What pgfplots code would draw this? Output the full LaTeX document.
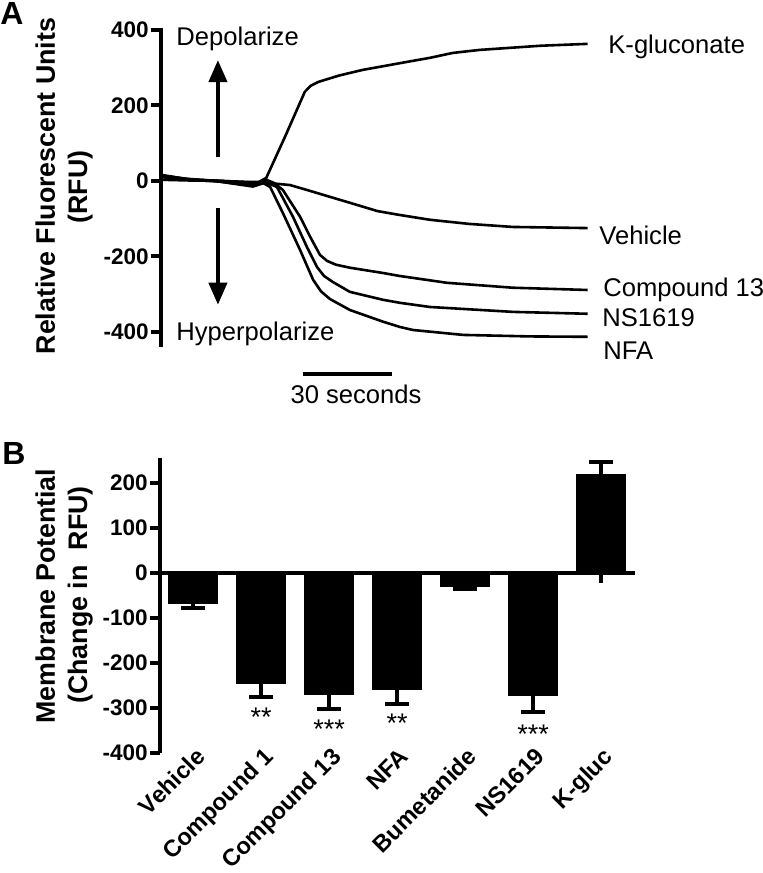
\documentclass[border=0pt]{standalone}
\usepackage{fontspec}
\setmainfont{Liberation Sans}
\usepackage{pgfplots}
\pgfplotsset{compat=1.18}
\usetikzlibrary{arrows.meta}

\newcommand{\annfont}{\fontsize{12.8pt}{15pt}\selectfont}
\newcommand{\astfont}{\fontsize{13.5pt}{15pt}\selectfont}
\newcommand{\tickfont}{\fontsize{11.25pt}{13pt}\selectfont\bfseries}
\newcommand{\labfont}{\fontsize{13.4pt}{15pt}\selectfont\bfseries}
\newcommand{\panfont}{\fontsize{16pt}{18pt}\selectfont\bfseries}

\pgfplotsset{
 mystyle/.style={
  scale only axis,
  axis lines=left,
  axis line style={-},
  x axis line style={draw=none},
  y axis line style={-, line width=2pt},
  xtick style={draw=none},
  ytick style={line width=2pt, black},
  tick align=outside,
  major tick length=5pt,
  yticklabel style={font=\tickfont, inner xsep=1pt},
  /pgf/number format/assume math mode=true,
  clip=false,
 }
}

\begin{document}
\begin{tikzpicture}
\path[use as bounding box] (0,0) rectangle (381pt,436.5pt);

% ---------------- Panel A ----------------
\begin{axis}[mystyle, at={(80.5pt,263pt)}, anchor=south west,
  width=213.5pt, height=159.5pt,
  xmin=0, xmax=144, ymin=-440, ymax=405,
  ytick={-400,-200,0,200,400}, xtick=\empty]
% K-gluconate
\addplot[black, line width=1.3pt, line join=round] coordinates {
 (0,3) (10,1) (20,0) (30,-3) (33,-3) (35.5,8) (42,120) (48.5,236) (50.5,252) (53,262)
 (60,279) (68,294) (82.8,315) (90.7,326) (98.4,339) (107.5,347) (128,358) (143.9,363)};
% Vehicle
\addplot[black, line width=1.3pt, line join=round] coordinates {
 (0,10) (10,3) (20,0) (33,-5) (35.5,-5) (43.5,-11) (49.2,-24) (56,-40) (63.7,-58)
 (73,-80) (80.3,-90) (90.7,-103) (104,-114) (118.7,-122) (143.9,-125)};
% Compound 13
\addplot[black, line width=1.3pt, line join=round] coordinates {
 (0,14) (10,4) (20,0) (31,-8) (35.5,3) (38,-5) (41.1,-24) (46.9,-95) (50.3,-148)
 (53.6,-196) (56,-212) (59,-222) (63.7,-230) (74.9,-244) (80.6,-252) (96.5,-270) (118.7,-283) (143.9,-289)};
% NS1619
\addplot[black, line width=1.3pt, line join=round] coordinates {
 (0,12) (10,3) (20,-2) (31,-12) (35,-3) (39.1,-16) (44.5,-95) (49.2,-175) (52.6,-228)
 (55,-252) (58,-268) (63.7,-294) (74.9,-315) (80.6,-323) (90.7,-334) (118.7,-347) (143.9,-352)};
% NFA
\addplot[black, line width=1.3pt, line join=round] coordinates {
 (0,16) (8,6) (18,0) (31,-15) (34.5,-6) (36.8,-16) (41.1,-85) (46.9,-183) (51.3,-262)
 (54,-293) (57,-313) (63.7,-342) (74.9,-373) (80.6,-387) (85,-395) (101.9,-408) (124.5,-412) (143.9,-413)};
% arrows
\draw[line width=2pt, -{Triangle[width=9pt,length=11pt]}] (axis cs:19.2,64) -- (axis cs:19.2,320);
\draw[line width=2pt, -{Triangle[width=9pt,length=11pt]}] (axis cs:19.2,-72) -- (axis cs:19.2,-328);
% scale bar (30 s)
\draw[line width=2pt] (axis cs:47.9,-511) -- (axis cs:77.9,-511);
\end{axis}

% ---------------- Panel B ----------------
\begin{axis}[mystyle, at={(80pt,60pt)}, anchor=south west,
  width=237.5pt, height=147.5pt,
  xmin=-0.49, xmax=6.5, ymin=-400, ymax=255,
  ytick={-400,-300,-200,-100,0,100,200},
  xtick={0,1,2,3,4,5,6},
  xticklabels={Vehicle,Compound 1,Compound 13,NFA,Bumetanide,NS1619,K-gluc},
  xticklabel style={font=\fontsize{11.8pt}{14pt}\selectfont\bfseries, yshift=8.5pt, xshift=0.5pt, rotate=45, anchor=north east, inner sep=0pt},
  ybar, bar width=24.5pt]
\addplot[fill=black, draw=black,
  error bars/.cd, y dir=both, y explicit,
  error bar style={line width=2pt, black},
  error mark options={rotate=90, mark size=6pt, line width=2pt, black}]
 coordinates {
 (0,-67) +- (0,10)
 (1,-245) +- (0,30)
 (2,-269) +- (0,34)
 (3,-258) +- (0,33)
 (4,-29) +- (0,7)
 (5,-271) +- (0,37)
 (6,218) +- (0,29)};
\draw[line width=2pt] (axis cs:-0.49,0) -- (axis cs:6.5,0);
\draw[line width=2pt] (axis cs:6,0) -- (axis cs:6,-22);
\node[anchor=base, inner sep=0, font=\astfont] at (axis cs:1,-342) {**};
\node[anchor=base, inner sep=0, font=\astfont] at (axis cs:2,-367) {***};
\node[anchor=base, inner sep=0, font=\astfont] at (axis cs:3,-355) {**};
\node[anchor=base, inner sep=0, font=\astfont] at (axis cs:5,-378) {***};
\end{axis}

% ---------------- text annotations (pixel frame) ----------------
\begin{scope}[x=0.5pt, y=-0.5pt, shift={(0pt,436.5pt)}]
\node[anchor=base west, inner sep=0, font=\panfont] at (0,25) {A};
\node[anchor=base west, inner sep=0, font=\panfont] at (2,465) {B};
\node[anchor=base west, inner sep=0, font=\annfont] at (176,46) {Depolarize};
\node[anchor=base west, inner sep=0, font=\annfont] at (176,341) {Hyperpolarize};
\node[anchor=base west, inner sep=0, font=\annfont] at (608,54) {K-gluconate};
\node[anchor=base west, inner sep=0, font=\annfont] at (599,245) {Vehicle};
\node[anchor=base west, inner sep=0, font=\annfont] at (603,297) {Compound 13};
\node[anchor=base west, inner sep=0, font=\annfont] at (602,327) {NS1619};
\node[anchor=base west, inner sep=0, font=\annfont] at (603,360) {NFA};
\node[anchor=base, inner sep=0, font=\annfont] at (356,404) {30 seconds};
\node[anchor=base, inner sep=0, rotate=90, font=\labfont] at (55,186) {Relative Fluorescent Units};
\node[anchor=base, inner sep=0, rotate=90, font=\labfont] at (87,187) {(RFU)};
\node[anchor=base, inner sep=0, rotate=90, font=\labfont] at (55,596) {Membrane Potential};
\node[anchor=base, inner sep=0, rotate=90, font=\labfont] at (87,595) {(Change in~~RFU)};
\end{scope}
\end{tikzpicture}
\end{document}
